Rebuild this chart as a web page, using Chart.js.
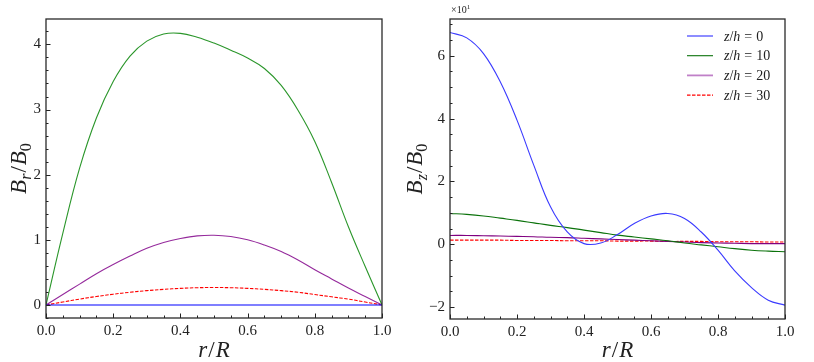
<!DOCTYPE html>
<html>
<head>
<meta charset="utf-8">
<script src="https://cdn.jsdelivr.net/npm/chart.js@4.4.1/dist/chart.umd.min.js"></script>
<style>
  html,body{margin:0;padding:0;background:#fff;}
  #wrap{position:relative;width:814px;height:362px;overflow:hidden;}
  .pane{position:absolute;top:0;width:407px;height:362px;}
</style>
</head>
<body>
<div id="wrap">
  <div class="pane" style="left:0"><canvas id="cL" width="407" height="362"></canvas></div>
  <div class="pane" style="left:407px"><canvas id="cR" width="407" height="362"></canvas></div>
</div>
<script>
// ---------- DATA ----------
const rValues = [0,0.05,0.1,0.15,0.2,0.25,0.3,0.35,0.4,0.45,0.5,0.55,0.6,0.65,0.7,0.75,0.8,0.85,0.9,0.95,1.0];
const seriesLabels = ["z/h = 0","z/h = 10","z/h = 20","z/h = 30"];

// Left panel: B_r / B_0
const Br_z0  = [0,0,0,0,0,0,0,0,0,0,0,0,0,0,0,0,0,0,0,0,0];
const Br_z10 = [0,1.1,2.1,2.87,3.43,3.82,4.05,4.16,4.17,4.11,4.02,3.91,3.79,3.63,3.37,2.99,2.51,1.88,1.2,0.59,0];
const Br_z20 = [0,0.16,0.32,0.48,0.62,0.75,0.87,0.96,1.02,1.06,1.07,1.05,1.0,0.92,0.82,0.69,0.54,0.40,0.26,0.13,0];
const Br_z30 = [0,0.045,0.09,0.13,0.165,0.195,0.22,0.24,0.255,0.265,0.268,0.265,0.255,0.24,0.22,0.195,0.16,0.125,0.09,0.045,0];

// Right panel: B_z / B_0 (in units of 10^1)
const Bz_z0  = [6.74,6.57,6.07,5.17,3.95,2.52,1.19,0.39,0.02,0.04,0.31,0.66,0.90,0.98,0.82,0.39,-0.19,-0.85,-1.38,-1.78,-1.94];
const Bz_z10 = [0.98,0.95,0.90,0.83,0.76,0.68,0.60,0.53,0.45,0.37,0.29,0.23,0.17,0.11,0.04,-0.02,-0.08,-0.14,-0.19,-0.22,-0.24];
const Bz_z20 = [0.28,0.28,0.27,0.26,0.25,0.24,0.22,0.21,0.19,0.17,0.15,0.13,0.11,0.09,0.07,0.05,0.04,0.03,0.02,0.02,0.02];
const Bz_z30 = [0.13,0.13,0.13,0.13,0.12,0.12,0.12,0.11,0.11,0.11,0.10,0.10,0.10,0.09,0.09,0.09,0.08,0.08,0.08,0.07,0.07];

const xTickLabels = [0,0.2,0.4,0.6,0.8,1.0];
const yTicksLeft  = [0,1,2,3,4];
const yTicksRight = [-2,0,2,4,6];

// ---------- STYLES ----------
const SERIF = "'Liberation Serif','DejaVu Serif',serif";
const leftColors  = ['#0000ff','#2a962a','#952a9c','#ff0000'];
const rightColors = ['#3a3aff','#0b720b','#800080','#ff0000'];
const legendColors = ['#8080ff','#0b720b','#c080c8','#ff0000'];
const dashes = [[],[],[],[3.5,1.5]];

function pts(arr){ return rValues.map((r,i)=>({x:r,y:arr[i]})); }

function makeDatasets(seriesArr, colors){
  return seriesArr.map((s,i)=>({
    label: seriesLabels[i],
    data: pts(s),
    borderColor: colors[i],
    borderWidth: 1.1,
    borderDash: dashes[i],
    pointRadius: 0,
    fill: false,
    tension: 0.4
  }));
}

function mathParts(ctx, parts, size, draw, x0, y0){
  let x = x0;
  for(const p of parts){
    const fs = (p.sub || p.sup) ? size*0.7 : size;
    ctx.font = (p.i ? 'italic ' : '') + fs + 'px ' + SERIF;
    const w = ctx.measureText(p.t).width;
    if(draw){
      const dy = p.sub ? size*0.22 : (p.sup ? -size*0.38 : 0);
      ctx.fillText(p.t, x, y0 + dy);
    }
    x += w + (p.gap||0);
  }
  return x - x0;
}

const decor = {
  id:'decor',
  afterDatasetsDraw(chart, args, o){
    const ctx = chart.ctx, a = chart.chartArea;
    const xs = chart.scales.x, ys = chart.scales.y;
    ctx.save();
    ctx.strokeStyle = '#222';
    ctx.lineWidth = 1;
    const tick = (scale, minor, major, horiz) => {
      const n0 = Math.ceil(scale.min/minor - 1e-9), n1 = Math.floor(scale.max/minor + 1e-9);
      for(let n=n0;n<=n1;n++){
        const v = n*minor;
        const isMaj = Math.abs(v/major - Math.round(v/major)) < 1e-6;
        const len = isMaj ? 4.5 : 2.5;
        const p = Math.round(scale.getPixelForValue(v)) + 0.5;
        ctx.beginPath();
        if(horiz){ ctx.moveTo(p, a.bottom); ctx.lineTo(p, a.bottom - len); }
        else { ctx.moveTo(a.left, p); ctx.lineTo(a.left + len, p); }
        ctx.stroke();
      }
    };
    tick(xs, 0.05, 0.2, true);
    tick(ys, o.yMinor, o.yMajor, false);
    ctx.lineWidth = 1.3;
    ctx.strokeStyle = '#2a2a2a';
    ctx.strokeRect(a.left, a.top, a.right - a.left, a.bottom - a.top);

    ctx.fillStyle = '#222';
    ctx.textBaseline = 'alphabetic';
    const size = 23;
    const w = mathParts(ctx, o.yTitle, size, false, 0, 0);
    ctx.save();
    ctx.translate(a.left - o.yTitleOff, (a.top + a.bottom)/2);
    ctx.rotate(-Math.PI/2);
    mathParts(ctx, o.yTitle, size, true, -w/2, 7);
    ctx.restore();
    const xt = [{t:'r',i:true,gap:1},{t:'/',gap:1},{t:'R',i:true}];
    const wx = mathParts(ctx, xt, size, false, 0, 0);
    mathParts(ctx, xt, size, true, (a.left + a.right)/2 - wx/2, 357);

    if(o.multiplier){
      mathParts(ctx, [{t:'×10'},{t:'1',sup:true}], 10, true, a.left + 1, 13);
    }
    if(o.legend){
      chart.data.datasets.forEach((ds,i)=>{
        const yy = 36 + i*19.7;
        ctx.save();
        ctx.strokeStyle = legendColors[i];
        ctx.lineWidth = (i===0||i===2) ? 1.8 : 1.1;
        ctx.setLineDash(dashes[i]);
        ctx.beginPath(); ctx.moveTo(a.right - 98, yy); ctx.lineTo(a.right - 72, yy); ctx.stroke();
        ctx.restore();
        const num = seriesLabels[i].split('=')[1].trim();
        ctx.fillStyle = '#222';
        mathParts(ctx, [{t:'z',i:true},{t:'/'},{t:'h',i:true,gap:4},{t:'=',gap:4},{t:num}], 14, true, a.right - 61, yy + 4.5);
      });
    }
    ctx.restore();
  }
};

function makeChart(id, datasets, yMin, yMax, yTicks, yAxisW, xAxisH, padRight, opts){
  return new Chart(document.getElementById(id), {
    type:'line',
    data:{datasets},
    plugins:[decor],
    options:{
      responsive:false, animation:false, devicePixelRatio:1,
      layout:{padding:{top:19,right:padRight,left:0,bottom:0}},
      plugins:{legend:{display:false}, tooltip:{enabled:false}, decor:opts},
      scales:{
        x:{type:'linear', min:0, max:1,
           afterBuildTicks:s=>{ s.ticks = xTickLabels.map(v=>({value:v})); },
           afterFit:s=>{ s.height = xAxisH; },
           grid:{display:false, drawTicks:false},
           border:{display:false},
           ticks:{padding:4, color:'#222', font:{family:SERIF,size:15}, maxRotation:0,
                  callback:v=>Number(v).toFixed(1)}},
        y:{type:'linear', min:yMin, max:yMax,
           afterBuildTicks:s=>{ s.ticks = yTicks.map(v=>({value:v})); },
           afterFit:s=>{ s.width = yAxisW; },
           grid:{display:false, drawTicks:false},
           border:{display:false},
           ticks:{padding:5, color:'#222', font:{family:SERIF,size:15},
                  callback:v=> v<0 ? '\u2212'+Math.abs(v) : String(v)}}
      }
    }
  });
}

makeChart('cL', makeDatasets([Br_z0,Br_z10,Br_z20,Br_z30], leftColors), -0.2, 4.39, yTicksLeft, 46, 44, 25,
  {yMinor:0.2, yMajor:1, yTitleOff:27,
   yTitle:[{t:'B',i:true},{t:'r',i:true,sub:true,gap:1},{t:'/',gap:1},{t:'B',i:true},{t:'0',sub:true}]});

makeChart('cR', makeDatasets([Bz_z0,Bz_z10,Bz_z20,Bz_z30], rightColors), -2.38, 7.17, yTicksRight, 43, 43, 29,
  {yMinor:0.5, yMajor:2, yTitleOff:35, multiplier:true, legend:true,
   yTitle:[{t:'B',i:true},{t:'z',i:true,sub:true,gap:1},{t:'/',gap:1},{t:'B',i:true},{t:'0',sub:true}]});
</script>
</body>
</html>
